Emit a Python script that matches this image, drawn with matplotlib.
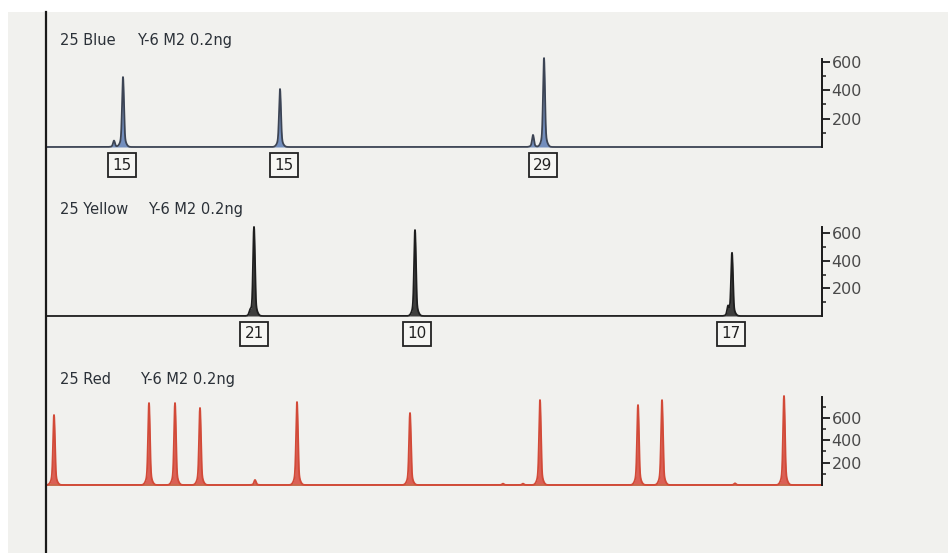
import numpy as np
import matplotlib.pyplot as plt
from matplotlib.patches import Rectangle
from matplotlib.lines import Line2D

plt.rcParams['font.family'] = ['DejaVu Sans']

# scan position (0 = left edge of trace) and peak heights (RFU)
blue_pos = [67, 76, 233, 486, 497]
blue_hgt = [45, 494, 409, 85, 628]
blue_labels = ['15', '15', '29']
blue_label_pos = [75, 237, 496]

yellow_pos = [203, 207, 368, 681, 685]
yellow_hgt = [25, 645, 623, 60, 456]
yellow_labels = ['21', '10', '17']
yellow_label_pos = [207, 370, 684]

red_pos = [7, 102, 128, 153, 208, 250, 363, 456, 476, 493, 591, 615, 688, 737]
red_hgt = [625, 732, 732, 688, 45, 741, 643, 12, 12, 759, 714, 759, 15, 795]

titles = [('25 Blue', 'Y-6 M2 0.2ng'), ('25 Yellow', 'Y-6 M2 0.2ng'), ('25 Red', 'Y-6 M2 0.2ng')]
yticks = [200, 400, 600]

W, H = 948, 553
fig = plt.figure(figsize=(W / 100, H / 100), dpi=100)
fig.patch.set_facecolor('white')
fig.patches.append(Rectangle((8 / W, 0), 1 - 8 / W, 1 - 12 / H, transform=fig.transFigure,
                             facecolor='#f1f1ee', edgecolor='none', zorder=-10))
fig.lines.append(Line2D([45.5 / W, 45.5 / W], [0, 1 - 12 / H], transform=fig.transFigure,
                        color='#1a1a1a', lw=1.6, zorder=5))

x = np.linspace(0, 775, 8000)


def trace(pos, hgt, width=0.9, base=0.14, base_w=2.4):
    y = np.zeros_like(x)
    for p, h in zip(pos, hgt):
        y += h * (1 - base) * np.exp(-0.5 * ((x - p) / width) ** 2)
        y += h * base * np.exp(-0.5 * ((x - p) / base_w) ** 2)
    return y


def panel(y0, scale, top, title, title_y, title_x2, pos, hgt, line_c, fill_c,
          labels=None, label_pos=None, base_c=None):
    ax = fig.add_axes([47 / W, 1 - y0 / H, 775 / W, 700 * scale / H])
    ax.set_xlim(0, 775)
    ax.set_ylim(0, 700)
    ax.patch.set_visible(False)
    for s in ['left', 'top', 'bottom']:
        ax.spines[s].set_visible(False)
    ax.spines['right'].set_bounds(0, top)
    ax.spines['right'].set_color('#1a1a1a')
    ax.spines['right'].set_linewidth(1.4)
    ax.set_xticks([])
    ax.yaxis.tick_right()
    ax.set_yticks(yticks)
    ax.set_yticks(np.arange(100, top, 100), minor=True)
    ax.tick_params(axis='y', which='major', direction='out', length=6, width=1.3,
                   pad=1, labelsize=11.5, labelcolor='#4a4a4a', color='#1a1a1a')
    ax.tick_params(axis='y', which='minor', direction='out', length=3, width=1.1,
                   color='#1a1a1a')
    y = trace(pos, hgt)
    ax.fill_between(x, 0, y, color=fill_c, lw=0, clip_on=False, alpha=0.85)
    ax.plot(x, y, color=line_c, lw=1.3, clip_on=False)
    if base_c:
        ax.plot([0, 775], [0, 0], color=base_c, lw=1.3, clip_on=False, zorder=1)
    fig.text(60 / W, 1 - title_y / H, title[0], fontsize=10.5, color='#2b3138',
             va='baseline')
    fig.text(title_x2 / W, 1 - title_y / H, title[1], fontsize=10.5, color='#2b3138',
             va='baseline')
    if labels:
        for lab, lp in zip(labels, label_pos):
            ax.annotate(lab, (lp, 0), xytext=(0, -18), textcoords='offset pixels',
                        ha='center', va='center', fontsize=11, color='#222222',
                        bbox=dict(boxstyle='square,pad=0.3', fc='#f6f6f3', ec='#222222', lw=1.3),
                        annotation_clip=False)
    return ax


panel(147, 0.1417, 621, titles[0], 45, 137, blue_pos, blue_hgt, '#3c4454', '#5d7db5',
      blue_labels, blue_label_pos)
panel(316, 0.138, 645, titles[1], 214, 148, yellow_pos, yellow_hgt, '#1e1e1e', '#1e1e1e',
      yellow_labels, yellow_label_pos)
panel(485, 0.112, 786, titles[2], 384, 140, red_pos, red_hgt, '#d24a38', '#d8473a',
      base_c='#c86a4a')

fig.savefig('out.png', dpi=100, facecolor=fig.get_facecolor())
